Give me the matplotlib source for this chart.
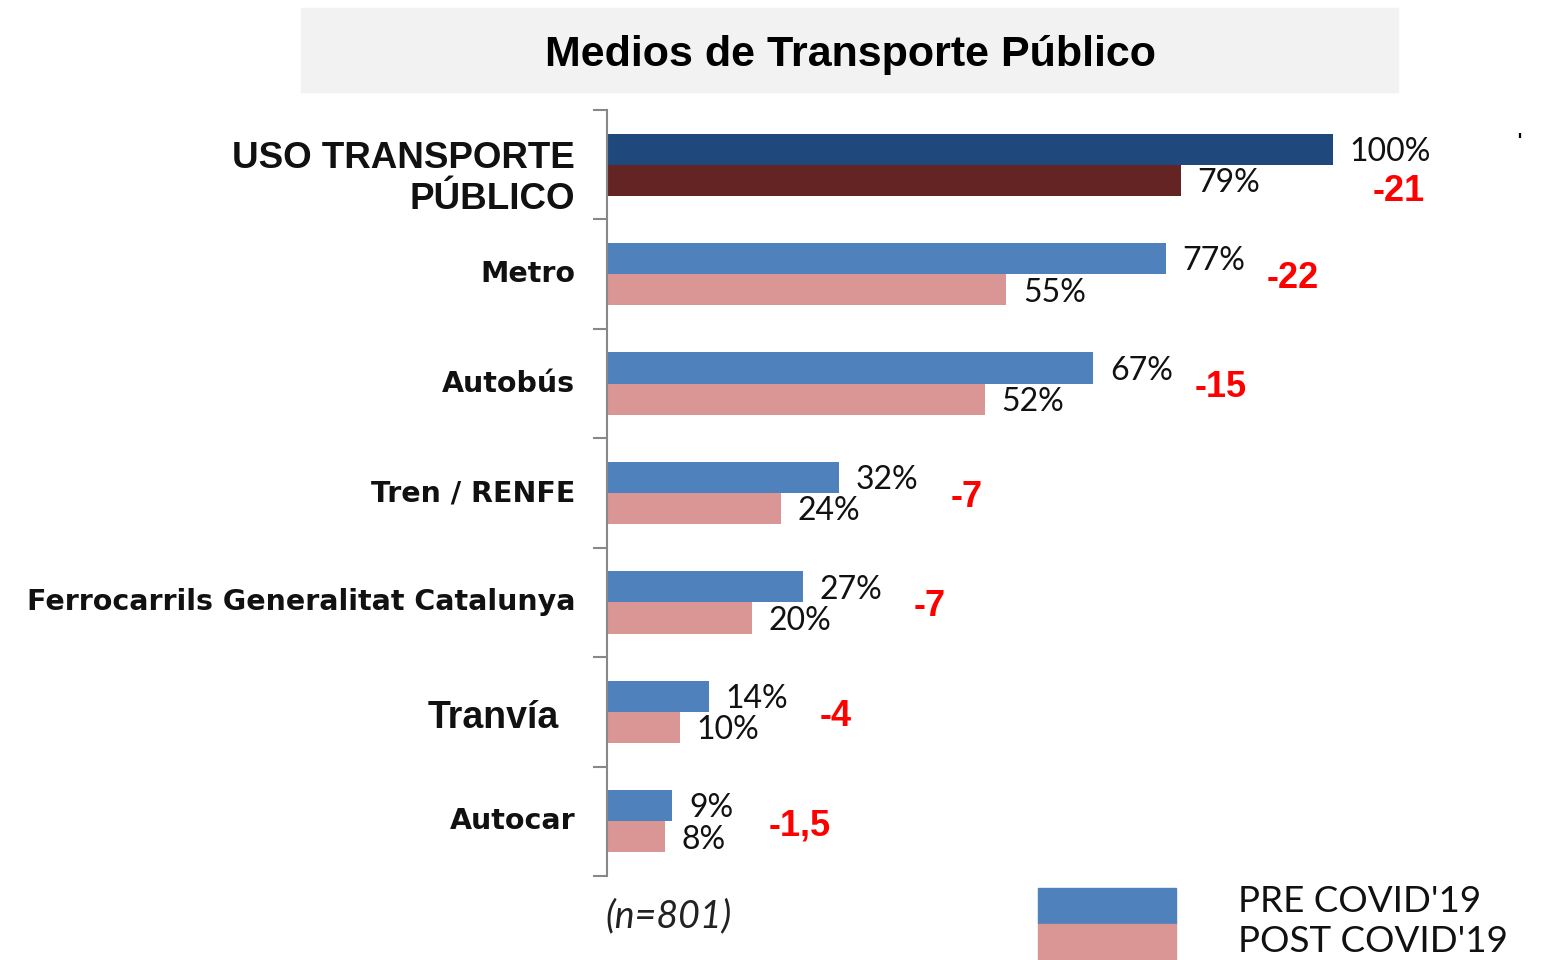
import matplotlib.pyplot as plt
from matplotlib.patches import Rectangle
from matplotlib.transforms import blended_transform_factory

# data
categories = ["USO TRANSPORTE\nPÚBLICO", "Metro", "Autobús", "Tren / RENFE",
              "Ferrocarrils Generalitat Catalunya", "Tranvía", "Autocar"]
pre_covid = [100, 77, 67, 32, 27, 14, 9]
post_covid = [79, 55, 52, 24, 20, 10, 8]
diff_labels = ["-21", "-22", "-15", "-7", "-7", "-4", "-1,5"]
legend_labels = ["PRE COVID'19", "POST COVID'19"]

pre_colors = ["#1F497D"] + ["#4F81BD"] * 6
post_colors = ["#632423"] + ["#D99694"] * 6

fig = plt.figure(figsize=(15.47, 9.6), dpi=100)
ax = fig.add_axes([0.3924, 0.0875, 0.5866, 0.7979])

n = len(categories)
ypos = list(range(n))
h = 0.285
ax.barh([y - h / 2 for y in ypos], pre_covid, height=h, color=pre_colors)
ax.barh([y + h / 2 for y in ypos], post_covid, height=h, color=post_colors)

ax.set_xlim(0, 125)
ax.set_ylim(n - 0.5, -0.5)
ax.set_xticks([])
ax.set_yticks([y - 0.5 for y in range(n + 1)])
ax.set_yticklabels([])
ax.tick_params(axis="y", length=10, color="#888888", width=1.5)
for s in ["top", "right", "bottom"]:
    ax.spines[s].set_visible(False)
ax.spines["left"].set_color("#888888")
ax.spines["left"].set_linewidth(1.5)

val_font = "Lato"
for i in range(n):
    ax.annotate(f"{pre_covid[i]}%", (pre_covid[i], i - h / 2), xytext=(12, -2),
                textcoords="offset points", va="center", ha="left",
                fontsize=23, family=val_font, color="#111111")
    ax.annotate(f"{post_covid[i]}%", (post_covid[i], i + h / 2), xytext=(12, -2),
                textcoords="offset points", va="center", ha="left",
                fontsize=23, family=val_font, color="#111111")
    if i == 0:
        dx, dy = 109, i + h / 2 + 0.1
    else:
        dx, dy = pre_covid[i] + 17.5, i + 0.04
    ax.text(dx, dy, diff_labels[i], ha="center", va="center", fontsize=26,
            fontweight="bold", color="#FF0000", family="Liberation Sans")

trans = blended_transform_factory(ax.transAxes, ax.transData)
for i, cat in enumerate(categories):
    fam = "Liberation Sans" if i in (0, 5) else "DejaVu Sans"
    size = 26.5 if i == 0 else (27 if i == 5 else 20.5)
    yoff = 0.13 if i == 0 else (0.06 if i == 5 else 0)
    xoff = -35 if i == 5 else -23
    ax.annotate(cat, (0, i + yoff), xycoords=trans,
                xytext=(xoff, 0), textcoords="offset points",
                ha="right", va="center", fontsize=size, fontweight="bold",
                family=fam, color="#111111", linespacing=1.2)

# title box
fig.patches.append(Rectangle((301 / 1547, 1 - 92 / 960), 1097 / 1547, 84 / 960,
                             transform=fig.transFigure, color="#F2F2F2", zorder=0))
fig.text(850 / 1547, 1 - 55 / 960, "Medios de Transporte Público", ha="center",
         va="center", fontsize=31, fontweight="bold", family="Liberation Sans")

# legend
fig.patches.append(Rectangle((1038 / 1547, 1 - 924 / 960), 138 / 1547, 36 / 960,
                             transform=fig.transFigure, color="#4F81BD"))
fig.patches.append(Rectangle((1038 / 1547, 1 - 960 / 960), 138 / 1547, 36 / 960,
                             transform=fig.transFigure, color="#D99694"))
fig.text(1238 / 1547, 1 - 901 / 960, legend_labels[0], ha="left", va="center",
         fontsize=26.5, family=val_font, color="#111111")
fig.text(1238 / 1547, 1 - 941 / 960, legend_labels[1], ha="left", va="center",
         fontsize=26.5, family=val_font, color="#111111")

fig.text(605 / 1547, 1 - 916 / 960, "(n=801)", ha="left", va="center",
         fontsize=27, style="italic", family=val_font, color="#222222")
fig.text(1519 / 1547, 1 - 142 / 960, "'", ha="center", va="center",
         fontsize=14, fontweight="bold")

fig.savefig("out.png", dpi=100)
